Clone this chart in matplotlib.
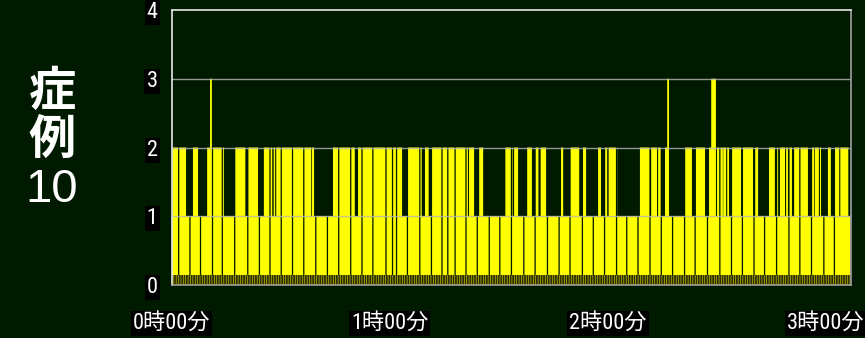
import numpy as np
import matplotlib
matplotlib.use("Agg")
import matplotlib.pyplot as plt

# minutes from start
end_min = 186.7
hour_ticks = [0, 60, 120, 180]
hour_labels = ["0時00分", "1時00分", "2時00分", "3時00分"]

# stretches at level 2 (start, end)
lvl2 = [(0.3, 4.0), (5.9, 7.3), (9.8, 14.4), (17.5, 20.3), (21.0, 23.8),
        (25.4, 27.7), (28.1, 28.5), (28.8, 38.4), (38.6, 39.2), (44.4, 50.4),
        (51.3, 63.4), (65.0, 68.1), (68.3, 68.8), (69.7, 70.7), (71.6, 81.5),
        (81.8, 83.2), (84.6, 85.7), (91.8, 93.8), (94.2, 95.3), (97.8, 99.1),
        (100.0, 100.9), (101.5, 103.0), (107.1, 107.7), (109.6, 112.1),
        (112.9, 114.0), (117.3, 118.1), (119.2, 119.8), (120.2, 122.6),
        (128.8, 131.6), (131.9, 133.5), (133.8, 134.6), (135.7, 136.8),
        (141.2, 143.1), (144.2, 146.7), (147.8, 149.7), (150.0, 150.6),
        (150.8, 151.6), (151.7, 152.5), (152.8, 153.3), (154.1, 156.6),
        (156.9, 159.9), (160.5, 161.3), (164.3, 165.9), (166.2, 166.8),
        (167.3, 168.7), (169.0, 169.5), (169.8, 170.6), (171.2, 172.6),
        (172.8, 175.0), (176.1, 176.7), (176.9, 178.0), (178.3, 178.6),
        (180.5, 181.3), (182.2, 183.6), (183.9, 186.1)]

# stretches at level 3
lvl3 = [(10.6, 11.1), (136.3, 136.8), (148.4, 149.7)]

# short drops to 0
zeros = [1.8, 4.9, 7.8, 11.1, 13.8, 17.2, 20.8, 24.0, 26.9, 30.0, 33.1, 36.2,
         39.5, 42.7, 45.8, 49.1, 52.2, 55.2, 58.8, 60.6, 61.7, 64.7, 68.1,
         71.3, 74.2, 75.8, 77.8, 80.8, 83.9, 87.2, 90.1, 93.3, 96.7, 99.8,
         103.2, 106.4, 109.4, 112.8, 115.8, 118.9, 122.2, 125.0, 128.1, 131.4,
         134.5, 137.6, 140.9, 143.8, 147.2, 150.6, 153.8, 156.8, 160.0, 162.9,
         166.2, 169.6, 172.6, 175.8, 179.2, 182.1]

bg = "#001a00"
yellow = "#ffff00"

step = 0.05
edges = np.arange(0, end_min + step, step)
mid = (edges[:-1] + edges[1:]) / 2
vals = np.ones(len(mid))
for a, b in lvl2:
    vals[(mid >= a) & (mid < b)] = 2
for a, b in lvl3:
    vals[(mid >= a) & (mid < b)] = 3
for z in zeros:
    vals[(mid >= z) & (mid < z + 0.35)] = 0

plt.rcParams['hatch.linewidth'] = 1.3
fig = plt.figure(figsize=(8.65, 3.38), dpi=100, facecolor=bg)
ax = fig.add_axes([171.5 / 865, 53 / 338, 679 / 865, 275 / 338])
ax.set_facecolor(bg)

ax.stairs(vals, edges, fill=True, color=yellow, linewidth=0, zorder=2)
ax.bar(0, 0.14, width=end_min, align='edge', facecolor="#d8d800",
       edgecolor="#2e2e00", hatch='|' * 7, linewidth=0, zorder=3)

for yv in [1, 2, 3]:
    ax.axhline(yv, color="#b8b8b8", lw=1, alpha=0.8, zorder=4)

ax.set_xlim(0, end_min)
ax.set_ylim(0, 4)
ax.set_yticks([0, 1, 2, 3, 4])
ax.set_xticks(hour_ticks)
ax.set_xticklabels(hour_labels)
ax.tick_params(length=0, colors="white", labelsize=16)
ax.tick_params(axis='y', pad=10)
ax.tick_params(axis='x', pad=20)
for lbl in ax.get_yticklabels() + ax.get_xticklabels():
    lbl.set_family(['Roboto Condensed', 'Noto Sans CJK JP'])
    lbl.set_bbox(dict(facecolor='black', edgecolor='none', pad=1.5))

for s in ['top', 'left']:
    ax.spines[s].set_color("#e8e8e8")
for s in ['right', 'bottom']:
    ax.spines[s].set_color("#a0a0a0")
for s in ax.spines.values():
    s.set_linewidth(1.2)
    s.set_zorder(5)

fig.text(52 / 865, 1 - 92 / 338, "症", color="white", fontsize=34, fontweight='bold',
         family='Noto Sans CJK JP', ha='center', va='center')
fig.text(52 / 865, 1 - 140 / 338, "例", color="white", fontsize=34, fontweight='bold',
         family='Noto Sans CJK JP', ha='center', va='center')
fig.text(52 / 865, 1 - 190 / 338, "10", color="white", fontsize=34,
         family='Liberation Sans', ha='center', va='center')

fig.savefig("out.png", dpi=100, facecolor=bg)
